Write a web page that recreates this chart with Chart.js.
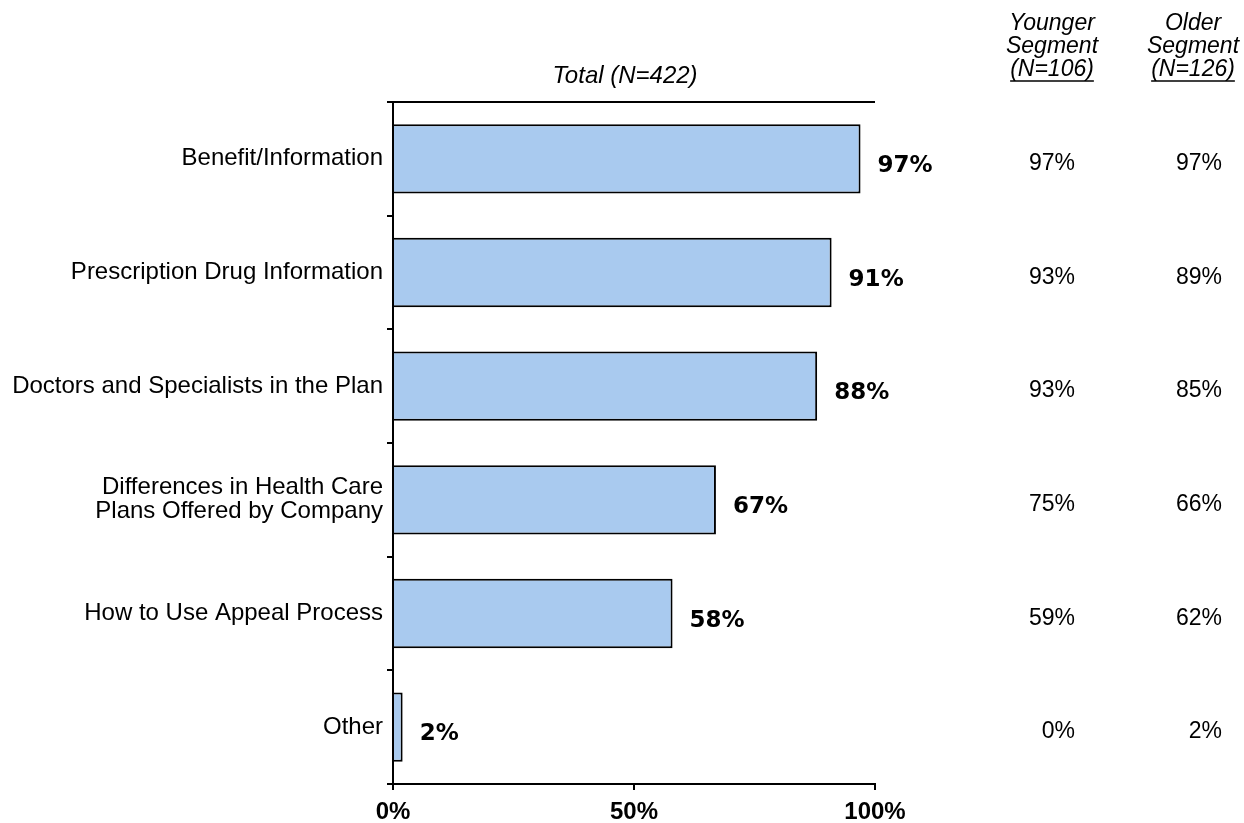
<!DOCTYPE html>
<html>
<head>
<meta charset="utf-8">
<script src="https://cdn.jsdelivr.net/npm/chart.js"></script>
<style>
  body { margin: 0; background: #fff; }
  #wrap { width: 1244px; height: 823px; }
</style>
</head>
<body>
<div id="wrap"><canvas id="Chart" width="1244" height="823"></canvas></div>
<script>
let categories = [
  'Benefit/Information',
  'Prescription Drug Information',
  'Doctors and Specialists in the Plan',
  ['Differences in Health Care', 'Plans Offered by Company'],
  'How to Use Appeal Process',
  'Other'
];
let totalPct = [97, 91, 88, 67, 58, 2];
let youngerPct = [97, 93, 93, 75, 59, 0];
let olderPct = [97, 89, 85, 66, 62, 2];
let xTicks = [0, 50, 100];

let graph = document.getElementById('Chart');
let font = "'Liberation Sans', Arial, sans-serif";

// value labels, column headers and the side columns
let extras = {
  id: 'extras',
  afterDatasetsDraw(chart) {
    let ctx = chart.ctx;
    let area = chart.chartArea;
    let yScale = chart.scales.y;
    ctx.save();

    // top frame line
    ctx.strokeStyle = '#000';
    ctx.lineWidth = 2;
    ctx.beginPath();
    ctx.moveTo(area.left - 6, area.top);
    ctx.lineTo(area.right, area.top);
    ctx.stroke();

    // bold value at the end of each bar
    ctx.fillStyle = '#000';
    ctx.font = "bold 23px 'DejaVu Sans', sans-serif";
    ctx.textAlign = 'left';
    ctx.textBaseline = 'alphabetic';
    chart.getDatasetMeta(0).data.forEach((bar, i) => {
      ctx.fillText(totalPct[i] + '%', bar.x + 17, bar.y + 13);
    });

    // headers
    ctx.font = 'italic 24px ' + font;
    ctx.textAlign = 'center';
    ctx.fillText('Total (N=422)', 625, 83);

    ctx.font = 'italic 23px ' + font;
    let heads = [
      { x: 1052, lines: ['Younger', 'Segment', '(N=106)'] },
      { x: 1193, lines: ['Older', 'Segment', '(N=126)'] }
    ];
    heads.forEach(h => {
      h.lines.forEach((t, k) => ctx.fillText(t, h.x, 30 + k * 23));
      let w = ctx.measureText(h.lines[2]).width;
      ctx.lineWidth = 1.5;
      ctx.beginPath();
      ctx.moveTo(h.x - w / 2, 81);
      ctx.lineTo(h.x + w / 2, 81);
      ctx.stroke();
    });

    // segment columns
    ctx.font = '23px ' + font;
    ctx.textAlign = 'right';
    categories.forEach((c, i) => {
      let y = yScale.getPixelForValue(i) + 11;
      ctx.fillText(youngerPct[i] + '%', 1075, y);
      ctx.fillText(olderPct[i] + '%', 1222, y);
    });
    ctx.restore();
  }
};

let chartData = {
  type: 'bar',
  data: {
    labels: categories,
    datasets: [{
      data: totalPct,
      backgroundColor: '#A9CAEF',
      borderColor: '#000',
      borderWidth: 2,
      categoryPercentage: 1,
      barPercentage: 0.61
    }]
  },
  options: {
    indexAxis: 'y',
    responsive: false,
    animation: false,
    layout: { padding: { left: 0, right: 369, top: 102, bottom: 0 } },
    plugins: { legend: { display: false }, tooltip: { enabled: false } },
    scales: {
      x: {
        min: 0,
        max: 100,
        afterBuildTicks(scale) { scale.ticks = xTicks.map(v => ({ value: v })); },
        afterFit(scale) { scale.height = 39; },
        border: { display: true, color: '#000', width: 2 },
        grid: { drawOnChartArea: false, color: '#000', lineWidth: 2, tickLength: 6 },
        ticks: {
          color: '#000',
          padding: 8,
          maxRotation: 0,
          font: { family: font, size: 24, weight: 'bold' },
          callback: v => v + '%'
        }
      },
      y: {
        afterFit(scale) { scale.width = 393; },
        border: { display: true, color: '#000', width: 2 },
        grid: { drawOnChartArea: false, color: '#000', lineWidth: 2, tickLength: 6 },
        ticks: {
          color: '#000',
          padding: 4,
          font: { family: font, size: 24, lineHeight: 1.0 }
        }
      }
    }
  },
  plugins: [extras]
};

let presentdata = new Chart(graph, chartData);
</script>
</body>
</html>
